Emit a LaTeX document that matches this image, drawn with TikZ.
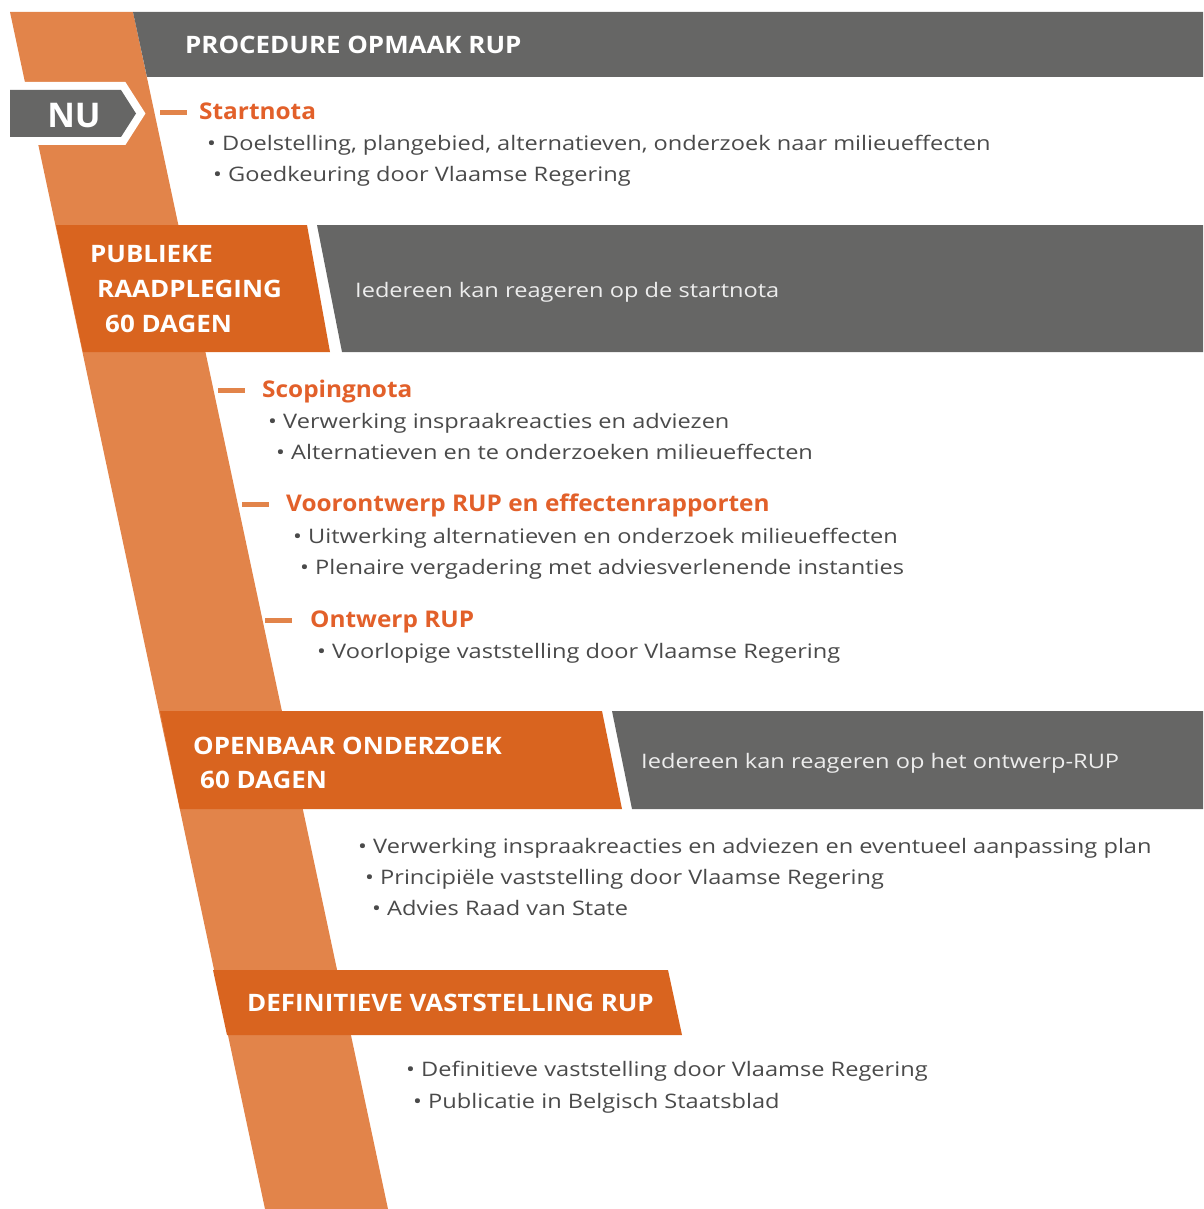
\documentclass[tikz,border=0pt]{standalone}
\usepackage{fontspec}
\setmainfont{Open Sans}
\newfontfamily\puntfont[FakeStretch=1.18]{Open Sans}
\newfontfamily\kopfont[FakeStretch=1.08]{Open Sans}
\newfontfamily\titelfont[FakeStretch=1.06]{Open Sans}
\definecolor{bandoranje}{HTML}{E2844A}
\definecolor{vakoranje}{HTML}{D9641F}
\definecolor{titeloranje}{HTML}{E2602A}
\definecolor{vakgrijs}{HTML}{666665}
\definecolor{tekstgrijs}{HTML}{4A4A4A}
\definecolor{lichtgrijs}{HTML}{EDEDED}

\tikzset{
  kop/.style={anchor=base west, inner sep=0pt, text=white, font=\kopfont\fontsize{24}{28}\selectfont\bfseries},
  titel/.style={anchor=base west, inner sep=0pt, text=titeloranje, font=\titelfont\fontsize{23}{27}\selectfont\bfseries},
  punt/.style={anchor=base west, inner sep=0pt, text=tekstgrijs, font=\puntfont\fontsize{20}{24}\selectfont},
  uitleg/.style={anchor=base west, inner sep=0pt, text=lichtgrijs, font=\puntfont\fontsize{20}{24}\selectfont},
  streep/.style={draw=bandoranje, line width=5pt},
}

\begin{document}
\begin{tikzpicture}[x=1pt, y=-1pt]
		\useasboundingbox (0,0) rectangle (1203,1209);
		\begin{scope}
					\fill[bandoranje] (10,12) -- (133,12) -- (388,1209) -- (265,1209) -- cycle; % schuine band

					% kopbalk
					\fill[vakgrijs] (133,12) -- (1203,12) -- (1203,77) -- (147,77) -- cycle;
					\node[kop] (kop) at (185,54) {PROCEDURE OPMAAK RUP};

					% pijl NU
					\draw[white, line width=16pt, line join=miter] (10,90) -- (121,90) -- (136,113.5) -- (121,137) -- (10,137) -- cycle;
					\fill[vakgrijs] (10,90) -- (121,90) -- (136,113.5) -- (121,137) -- (10,137) -- cycle;
					\node[anchor=base, inner sep=0pt, text=white, font=\fontsize{34}{38}\selectfont\bfseries] (nu) at (74,128) {NU};

					% startnota
					\draw[streep] (160,113) -- (187,113);
					\node[titel] (startnota) at (199,120) {Startnota};
					\node[punt] (start1) at (207,151) {• Doelstelling, plangebied, alternatieven, onderzoek naar milieueffecten};
					\node[punt] (start2) at (213,182) {• Goedkeuring door Vlaamse Regering};

					% publieke raadpleging
					\fill[vakoranje] (56,225) -- (307,225) -- (330,352) -- (83,352) -- cycle;
					\fill[vakgrijs] (317,225) -- (1203,225) -- (1203,352) -- (342,352) -- cycle;
					\node[kop] (raad1) at (90,262) {PUBLIEKE};
					\node[kop] (raad2) at (97,297) {RAADPLEGING};
					\node[kop] (raad3) at (105,332) {60 DAGEN};
					\node[uitleg] (raaduitleg) at (355,297) {Iedereen kan reageren op de startnota};

					% scopingnota
					\draw[streep] (218,390) -- (245,390);
					\node[titel] (scoping) at (262,397) {Scopingnota};
					\node[punt] (scoping1) at (268,428) {• Verwerking inspraakreacties en adviezen};
					\node[punt] (scoping2) at (276,459) {• Alternatieven en te onderzoeken milieueffecten};

					% voorontwerp
					\draw[streep] (242,504) -- (269,504);
					\node[titel] (voorontwerp) at (286,511) {Voorontwerp RUP en effectenrapporten};
					\node[punt] (voor1) at (293,543) {• Uitwerking alternatieven en onderzoek milieueffecten};
					\node[punt] (voor2) at (300,574) {• Plenaire vergadering met adviesverlenende instanties};

					% ontwerp
					\draw[streep] (265,620) -- (292,620);
					\node[titel] (ontwerp) at (310,627) {Ontwerp RUP};
					\node[punt] (ontwerp1) at (317,658) {• Voorlopige vaststelling door Vlaamse Regering};

					% openbaar onderzoek
					\fill[vakoranje] (160,711) -- (602,711) -- (622,809) -- (180,809) -- cycle;
					\fill[vakgrijs] (612,711) -- (1203,711) -- (1203,809) -- (632,809) -- cycle;
					\node[kop] (open1) at (193,754) {OPENBAAR ONDERZOEK};
					\node[kop] (open2) at (200,788) {60 DAGEN};
					\node[uitleg] (openuitleg) at (641,768) {Iedereen kan reageren op het ontwerp-RUP};

					\node[punt] (na1) at (358,853) {• Verwerking inspraakreacties en adviezen en eventueel aanpassing plan};
					\node[punt] (na2) at (365,884) {• Principiële vaststelling door Vlaamse Regering};
					\node[punt] (na3) at (372,915) {• Advies Raad van State};

					% definitieve vaststelling
					\fill[vakoranje] (213,970) -- (668,970) -- (682,1035) -- (227,1035) -- cycle;
					\node[kop] (definitief) at (247,1011) {DEFINITIEVE VASTSTELLING RUP};

					\node[punt] (def1) at (406,1076) {• Definitieve vaststelling door Vlaamse Regering};
					\node[punt] (def2) at (413,1108) {• Publicatie in Belgisch Staatsblad};
		\end{scope}
\end{tikzpicture}
\end{document}
